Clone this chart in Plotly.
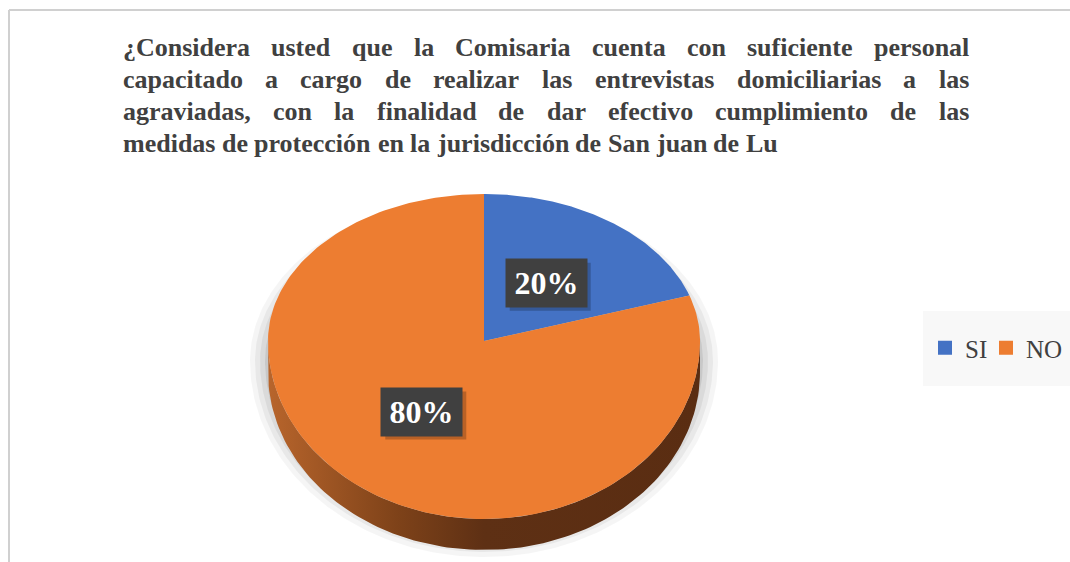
import numpy as np
import plotly.graph_objects as go

# data
categories = ["SI", "NO"]
values = [20, 80]
colors = ["#4472c4", "#ed7d31"]
title_lines = [
    "¿Considera usted que la Comisaria cuenta con suficiente personal",
    "capacitado a cargo de realizar las entrevistas domiciliarias a las",
    "agraviadas, con la finalidad de dar efectivo cumplimiento de las",
    "medidas de protección en la jurisdicción de San juan de Lu",
]

W, H = 1070, 562

# pie geometry in pixel units (tilted, like the Excel 3-D pie)
cx, cy = 484, 341
rx, ry_top, ry_bot = 216, 147, 178
depth = 31


def ellipse(deg, grow=0.0, dy=0.0):
    t = np.radians(deg)
    c = np.cos(t)
    ry = np.where(c > 0, ry_top, ry_bot)
    x = cx + (rx + grow) * np.sin(t)
    y = cy - (ry + grow) * c + dy
    return x, y


fig = go.Figure()

# soft shadow under the pie
for g, a in [(18, 0.04), (13, 0.05), (8, 0.06), (3, 0.08)]:
    x, y = ellipse(np.linspace(0, 360, 361), grow=g, dy=20)
    fig.add_trace(go.Scatter(x=x, y=y, fill="toself", mode="lines",
                             line=dict(width=0), fillcolor=f"rgba(0,0,0,{a})",
                             hoverinfo="skip", showlegend=False))

total = sum(values)
bounds = np.concatenate([[0], np.cumsum(values) / total * 360])

# visible side walls (front half of the pie)
for i, cat in enumerate(categories):
    a0, a1 = max(bounds[i], 90), min(bounds[i + 1], 270)
    if a1 <= a0:
        continue
    th = np.linspace(a0, a1, 120)
    xt, yt = ellipse(th)
    xb, yb = ellipse(th[::-1], dy=depth)
    fig.add_trace(go.Scatter(
        x=np.concatenate([xt, xb]), y=np.concatenate([yt, yb]),
        fill="toself", mode="lines", line=dict(width=0),
        fillgradient=dict(type="horizontal", start=cx - rx, stop=cx + rx,
                          colorscale=[[0, "#b8652c"], [0.3, "#7e4219"],
                                      [0.5, "#5e3014"], [1, "#5a2d12"]]),
        hoverinfo="skip", showlegend=False))

# top faces
for i, cat in enumerate(categories):
    th = np.linspace(bounds[i], bounds[i + 1], 200)
    x, y = ellipse(th)
    fig.add_trace(go.Scatter(
        x=np.concatenate([[cx], x, [cx]]), y=np.concatenate([[cy], y, [cy]]),
        fill="toself", mode="lines", line=dict(width=0),
        fillcolor=colors[i], hoverinfo="skip", showlegend=False))

# legend entries (first one kept narrow so the entries sit close together)
for j, (cat, col) in enumerate(zip(categories, colors)):
    fig.add_trace(go.Scatter(x=[None], y=[None], mode="markers", name=cat,
                             legendwidth=16 if j == 0 else 38,
                             marker=dict(symbol="square", size=14, color=col)))

annotations = []
shapes = []

# data labels
bw, bh = 81, 48
for i, v in enumerate(values):
    mid = (bounds[i] + bounds[i + 1]) / 2
    ex, ey = ellipse(mid)
    lx = float(cx + 0.49 * (ex - cx))
    ly = float(cy + 0.49 * (ey - cy))
    pct = f"{round(v / total * 100)}%"
    shapes.append(dict(type="rect", xref="x", yref="y",
                       x0=lx - bw / 2 + 4, x1=lx + bw / 2 + 4,
                       y0=ly - bh / 2 + 4, y1=ly + bh / 2 + 4,
                       fillcolor="rgba(0,0,0,0.22)", line=dict(width=0),
                       layer="above"))
    annotations.append(dict(x=lx, y=ly, xref="x", yref="y",
                            text=f"<b>{pct}</b>", showarrow=False,
                            width=bw, height=bh, borderpad=0, bgcolor="#404040",
                            font=dict(family="Liberation Serif", size=32,
                                      color="white")))

# justified title, word by word (Times bold metrics)
tw = {"¿": 500, "C": 722, "L": 667, "S": 556, ",": 250, "ó": 500, "í": 278,
      "a": 500, "b": 556, "c": 444, "d": 556, "e": 444, "f": 333, "g": 500,
      "h": 556, "i": 278, "j": 333, "k": 556, "l": 278, "m": 833, "n": 556,
      "o": 500, "p": 556, "q": 556, "r": 444, "s": 389, "t": 333, "u": 556,
      "v": 500, "w": 722, "x": 500, "y": 500, "z": 444}
fs = 26
left, right = 122, 968
base0, lead = 56, 32
for k, line in enumerate(title_lines):
    words = line.split(" ")
    widths = [sum(tw.get(ch, 500) for ch in w) * fs / 1000 for w in words]
    last = k == len(title_lines) - 1
    gap = 250 * fs / 1000 if last else (right - left - sum(widths)) / (len(words) - 1)
    xpos = left
    for w, wd in zip(words, widths):
        annotations.append(dict(x=xpos, y=base0 + k * lead - 9, xref="x", yref="y",
                                text=f"<b>{w}</b>", showarrow=False,
                                xanchor="left", yanchor="middle", borderpad=0,
                                font=dict(family="Liberation Serif", size=fs,
                                          color="#404040")))
        xpos += wd + gap

shapes += [
    dict(type="line", xref="x", yref="y", x0=9, x1=W, y0=10, y1=10,
         line=dict(color="#d0d0d0", width=2)),
    dict(type="line", xref="x", yref="y", x0=9, x1=9, y0=10, y1=H,
         line=dict(color="#d0d0d0", width=2)),
    dict(type="rect", xref="x", yref="y", x0=923, x1=W, y0=311, y1=386,
         fillcolor="#f8f8f8", line=dict(width=0), layer="below"),
]

fig.update_layout(
    width=W, height=H,
    margin=dict(l=0, r=0, t=0, b=0),
    paper_bgcolor="white", plot_bgcolor="rgba(0,0,0,0)",
    xaxis=dict(range=[0, W], visible=False, fixedrange=True),
    yaxis=dict(range=[H, 0], visible=False, fixedrange=True),
    showlegend=True,
    legend=dict(orientation="h", x=925 / W, y=1 - 348 / H, xanchor="left",
                yanchor="middle", bgcolor="rgba(0,0,0,0)",
                font=dict(family="Liberation Serif", size=25, color="#404040"),
                itemwidth=30, traceorder="normal"),
    annotations=annotations,
    shapes=shapes,
)

fig.write_html("out.html", config={"displayModeBar": False},
               post_script="document.body.style.margin='0px';")
